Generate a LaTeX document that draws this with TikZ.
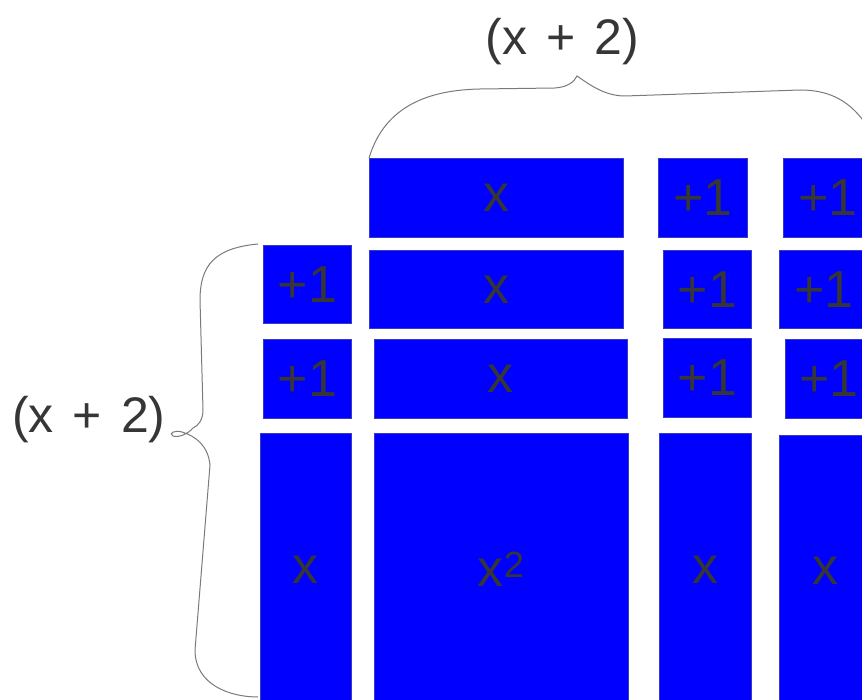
\documentclass[tikz,border=0pt]{standalone}
\usepackage{fontspec}
\setmainfont{Liberation Sans}
\usetikzlibrary{positioning}
\definecolor{tileblue}{HTML}{0000FF}
\definecolor{inkgray}{HTML}{363636}
\definecolor{bracegray}{HTML}{7A7A7A}

\begin{document}
\begin{tikzpicture}[
      x=1pt, y=-1pt,
      tile/.style={rectangle, draw=blue!55!gray, line width=0.6pt, fill=tileblue, inner sep=0pt, anchor=north west, text=inkgray, font=\fontsize{52}{60}\selectfont},
      lbl/.style={inner sep=0pt, text=inkgray, font=\fontsize{50}{58}\selectfont},
      brace/.style={draw=bracegray, line width=1pt}
    ]
    \useasboundingbox (0,0) rectangle (862,700);
    % Tiles, top row
    \node [tile, minimum width=254pt, minimum height=79pt] (tx) at (369,158) {x};
    \node [tile, minimum width=89pt, minimum height=79pt] (tpa) at (658,158) {+1};
    \node [tile, minimum width=89pt, minimum height=79pt] (tpb) at (783,158) {+1};
    % Tiles, second row
    \node [tile, minimum width=88pt, minimum height=78pt] (ap) at (263,245) {+1};
    \node [tile, minimum width=254pt, minimum height=78pt] (ax) at (369,250) {x};
    \node [tile, minimum width=88pt, minimum height=78pt] (apa) at (663,250) {+1};
    \node [tile, minimum width=89pt, minimum height=78pt] (apb) at (779,250) {+1};
    % Tiles, third row
    \node [tile, minimum width=88pt, minimum height=79pt] (bp) at (263,339) {+1};
    \node [tile, minimum width=253pt, minimum height=79pt] (bx) at (374,339) {x};
    \node [tile, minimum width=88pt, minimum height=79pt] (bpa) at (663,338) {+1};
    \node [tile, minimum width=87pt, minimum height=79pt] (bpb) at (785,339) {+1};
    % Tiles, bottom row
    \node [tile, minimum width=91pt, minimum height=272pt] (cx) at (260,433) {x};
    \node [tile, minimum width=254pt, minimum height=272pt] (csq) at (374,433) {x\textsuperscript{2}};
    \node [tile, minimum width=92pt, minimum height=272pt] (cxa) at (659,433) {x};
    \node [tile, minimum width=92pt, minimum height=270pt] (cxb) at (779,435) {x};
    % Labels
    \node [lbl] (toplbl) at (562,42) {(x\hspace{0.38em}+\hspace{0.38em}2)};
    \node [lbl] (leftlbl) at (89,420) {(x\hspace{0.38em}+\hspace{0.38em}2)};
    % Braces
    \coordinate (topend) at (880,150);
    \coordinate (leftend) at (258,697);
    \draw [brace] (tx.north west) .. controls (385,105) and (430,90) .. (480,89)
      -- (555,88) .. controls (568,87) and (574,82) .. (577,76)
      .. controls (590,85) and (605,96) .. (625,96)
      -- (800,90) .. controls (840,90) and (862,110) .. (topend);
    \draw [brace] (ap.north west) ++(-5,-1) .. controls (215,248) and (200,265) .. (200,300)
      -- (203,410) .. controls (203,420) and (198,426) .. (193,428)
      .. controls (188,434) and (178,438) .. (173,436)
      .. controls (168,433) and (175,430) .. (182,432)
      .. controls (195,436) and (208,445) .. (210,465)
      -- (195,650) .. controls (195,685) and (230,697) .. (leftend);
  \end{tikzpicture}
\end{document}
